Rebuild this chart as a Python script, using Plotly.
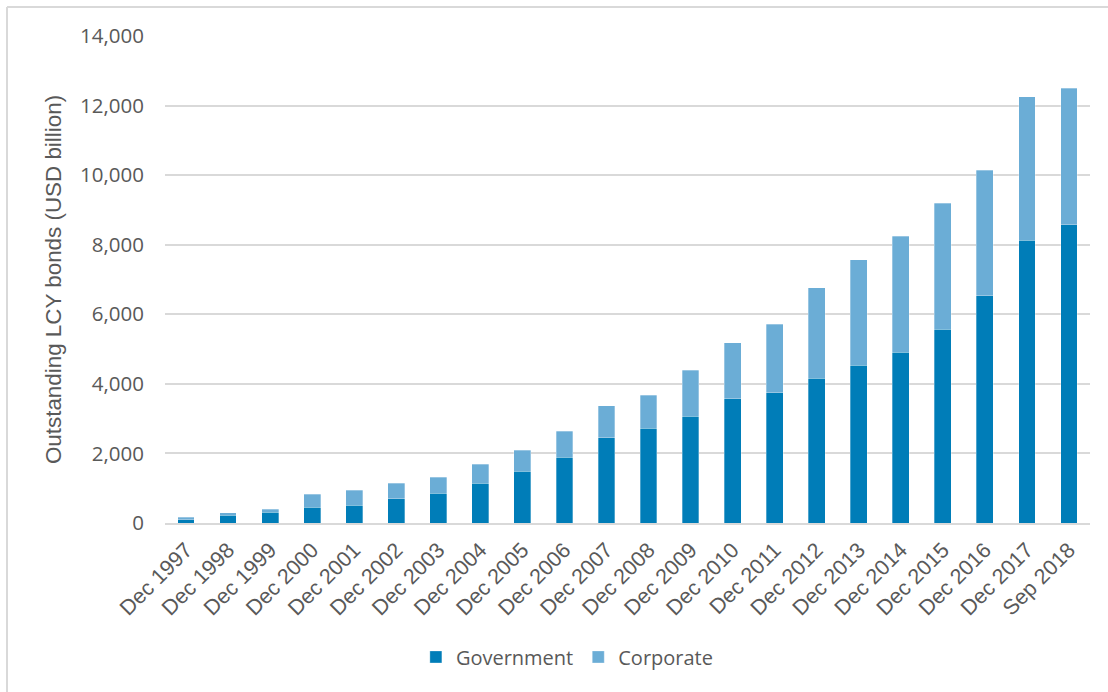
import plotly.graph_objects as go

categories = ["Dec 1997", "Dec 1998", "Dec 1999", "Dec 2000", "Dec 2001", "Dec 2002",
              "Dec 2003", "Dec 2004", "Dec 2005", "Dec 2006", "Dec 2007", "Dec 2008",
              "Dec 2009", "Dec 2010", "Dec 2011", "Dec 2012", "Dec 2013", "Dec 2014",
              "Dec 2015", "Dec 2016", "Dec 2017", "Sep 2018"]
government = [97, 230, 316, 460, 517, 700, 862, 1150, 1486, 1890, 2445, 2730,
              3075, 3565, 3740, 4160, 4535, 4905, 5570, 6535, 8135, 8580]
total = [165, 298, 402, 825, 940, 1150, 1313, 1687, 2090, 2635, 3375, 3670,
         4390, 5185, 5710, 6765, 7570, 8250, 9190, 10135, 12260, 12500]
corporate = [t - g for t, g in zip(total, government)]
y_ticks = [0, 2000, 4000, 6000, 8000, 10000, 12000, 14000]

GOV = "#007DB8"
CORP = "#6BADD6"
TXT = "#595959"

fig = go.Figure()
fig.add_trace(go.Bar(x=categories, y=government, name="Government",
                     marker=dict(color=GOV, line=dict(color="rgba(255,255,255,0.5)", width=0.6))))
fig.add_trace(go.Bar(x=categories, y=corporate, name="Corporate",
                     marker=dict(color=CORP, line=dict(color="rgba(255,255,255,0.5)", width=0.6))))

fig.update_layout(
    width=1108, height=692,
    barmode="stack", bargap=0.6,
    plot_bgcolor="white", paper_bgcolor="white",
    margin=dict(l=165, r=18, t=36, b=169),
    font=dict(family="Open Sans", color=TXT, size=20),
    legend=dict(orientation="h", x=0.435, xanchor="center", y=-0.235, yanchor="top",
                font=dict(family="Open Sans", size=20, color=TXT),
                itemwidth=30, traceorder="normal"),
    xaxis=dict(tickangle=-45, tickfont=dict(family="Liberation Sans", size=21.5, color=TXT),
               showline=True, linecolor="#D9D9D9", linewidth=2, ticks="",
               showgrid=False, ticklabelstandoff=4),
    yaxis=dict(range=[0, 14000], tickvals=y_ticks, tickformat=",d",
               tickfont=dict(family="Open Sans", size=20.5, color=TXT),
               showgrid=True, gridcolor="#D9D9D9", gridwidth=2, zeroline=False,
               ticklabelstandoff=20,
               title=dict(text="Outstanding LCY bonds (USD billion)",
                          font=dict(family="Liberation Sans", size=22.4, color=TXT),
                          standoff=12)),
    shapes=[
        dict(type="line", xref="paper", yref="paper",
             x0=(7 - 165) / 925, x1=(7 - 165) / 925, y0=(523 - 7) / 487, y1=(523 - 700) / 487,
             line=dict(color="#D9D9D9", width=2)),
        dict(type="line", xref="paper", yref="paper",
             x0=(7 - 165) / 925, x1=(1120 - 165) / 925, y0=(523 - 7) / 487, y1=(523 - 7) / 487,
             line=dict(color="#D9D9D9", width=2)),
    ],
)

fig.write_html("out.html", config={"displayModeBar": False},
               post_script="document.body.style.margin='0px';document.body.style.overflow='hidden';")
